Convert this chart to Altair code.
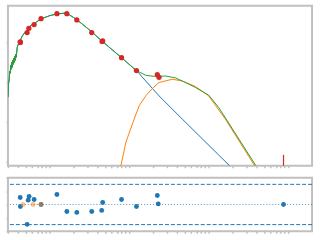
import altair as alt
import pandas as pd

# total model (green)
green_x = [0.2985, 0.3029, 0.3099, 0.3135, 0.319, 0.3227, 0.3283, 0.3321, 0.3379, 0.3418,
           0.3478, 0.3518, 0.358, 0.3621, 0.3684, 0.3727, 0.3792, 0.3836, 0.3903, 0.4016,
           0.4217, 0.4503, 0.4829, 0.5201, 0.5623, 0.6362, 0.7784, 1.0, 1.234,
           1.617, 1.778, 2.194, 3.381, 4.558, 8.013, 12.13, 16.17, 21.57, 28.75,
           38.35, 51.14, 68.2, 100.0, 133.4, 165.5, 390.2, 421.7]
green_y = [42.17, 89.1, 118.9, 188.4, 167.9, 266.1, 211.3, 316.2, 237.1, 354.8,
           281.8, 398.1, 316.2, 446.7, 354.8, 501.2, 421.7, 530.9, 749.9, 891.3,
           1078, 1437, 1748, 1995, 2556, 2985, 3913, 4732, 5219,
           5527, 4926, 3758, 1851, 1078, 414.5, 199.5, 149.6, 138.8, 143.7,
           128.1, 98.3, 73.7, 47.3, 23.3, 11.89, 0.808, 0.631]

# power-law component (blue)
blue_x = [0.2985, 0.3029, 0.3099, 0.3135, 0.319, 0.3227, 0.3283, 0.3321, 0.3379, 0.3418,
          0.3478, 0.3518, 0.358, 0.3621, 0.3684, 0.3727, 0.3792, 0.3836, 0.3903, 0.4016,
          0.4217, 0.4503, 0.4829, 0.5201, 0.5623, 0.6362, 0.7784, 1.0, 1.234,
          1.617, 1.778, 2.194, 3.381, 4.558, 8.013,
          12.34, 23.71, 46.4, 181.4, 199.5]
blue_y = [42.17, 89.1, 118.9, 188.4, 167.9, 266.1, 211.3, 316.2, 237.1, 354.8,
          281.8, 398.1, 316.2, 446.7, 354.8, 501.2, 421.7, 530.9, 749.9, 891.3,
          1078, 1437, 1748, 1995, 2556, 2985, 3913, 4732, 5219,
          5527, 4926, 3758, 1851, 1078, 414.5,
          196.1, 45.45, 11.89, 0.808, 0.65]

# dust bump component (orange)
orange_x = [7.606, 7.876, 9.095, 11.55, 13.34, 16.17, 19.56, 23.71, 34.77, 46.4,
            68.2, 100.0, 161.7, 375.8, 403.6]
orange_y = [0.631, 0.808, 3.108, 11.89, 25.56, 45.45, 69.6, 98.3, 118.9, 107.8,
            78.1, 45.45, 11.89, 0.808, 0.631]

# observed points (red)
obs_x = [0.4256, 0.428, 0.520, 0.5465, 0.637, 0.778, 1.233, 1.644, 2.194, 3.38,
         4.56, 4.64, 8.01, 12.34, 22.58, 23.71]
obs_y = [1041, 1000, 1778, 2278, 2818, 3981, 5309, 5309, 3694, 1778,
         1059, 1090, 414.5, 196.1, 155.8, 133.4]

# upper limit (red rule)
ul_x = [873]
ul_y = [1.496]

# residuals
res_x = [0.4256, 0.428, 0.520, 0.536, 0.551, 0.637, 0.778, 1.233, 1.644, 2.194,
         3.38, 4.51, 4.64, 8.01, 12.34, 22.58, 23.2, 873]
res_y = [0.52, -0.15, -1.48, 0.32, 0.59, 0.37, 0.0, 0.74, -0.52, -0.59,
         -0.52, -0.44, 0.15, 0.37, -0.15, 0.67, 0.04, 0.0]
excl_x = [0.464, 0.618, 0.778]
excl_y = [0.0, 0.0, 0.0]

xdom = [0.2985, 1995]
ydom = [0.794, 8414]
rdom = [-2, 2]

xticks = []
for e in [0.1, 1, 10, 100, 1000]:
    for k in range(1, 10):
        v = k * e
        if xdom[0] <= v <= xdom[1]:
            xticks.append(v)

BLUE, ORANGE, GREEN, RED = "#1f77b4", "#ff7f0e", "#2ca02c", "#d62728"

xs = alt.Scale(type="log", domain=xdom, nice=False)
ys = alt.Scale(type="log", domain=ydom, nice=False)
rs = alt.Scale(domain=rdom, nice=False)

xax = alt.Axis(values=xticks, labels=False, title=None, grid=False, domain=False)
yax = alt.Axis(values=[1, 10, 100, 1000], labels=False, title=None, grid=False, domain=False)
rax = alt.Axis(values=[-2, -1, 0, 1, 2], labels=False, title=None, grid=False, domain=False)

def line(x, y, color):
    df = pd.DataFrame({"x": x, "y": y, "i": range(len(x))})
    return alt.Chart(df).mark_line(color=color, strokeWidth=1, clip=True).encode(
        x=alt.X("x:Q", scale=xs, axis=xax),
        y=alt.Y("y:Q", scale=ys, axis=yax),
        order="i:Q",
    )

blue = line(blue_x, blue_y, BLUE)
orange = line(orange_x, orange_y, ORANGE)
green = line(green_x, green_y, GREEN)

obs = alt.Chart(pd.DataFrame({"x": obs_x, "y": obs_y})).mark_circle(
    color=RED, size=28, opacity=1).encode(
    x=alt.X("x:Q", scale=xs, axis=xax), y=alt.Y("y:Q", scale=ys, axis=yax))

ul = alt.Chart(pd.DataFrame({"x": ul_x, "y": ul_y, "y2": [ydom[0]]})).mark_rule(
    color=RED, strokeWidth=1.2).encode(
    x=alt.X("x:Q", scale=xs, axis=xax), y=alt.Y("y:Q", scale=ys, axis=yax), y2="y2:Q")

top = alt.layer(blue, orange, green, obs, ul).properties(width=306, height=161)

lines_df = pd.DataFrame({"r": [1.5, -1.5]})
dashed = alt.Chart(lines_df).mark_rule(color=BLUE, strokeWidth=1, strokeDash=[4, 2]).encode(
    y=alt.Y("r:Q", scale=rs, axis=rax))
zero = alt.Chart(pd.DataFrame({"r": [0.0]})).mark_rule(
    color=BLUE, strokeWidth=1, strokeDash=[1, 2], opacity=0.8).encode(
    y=alt.Y("r:Q", scale=rs, axis=rax))
resid = alt.Chart(pd.DataFrame({"x": res_x, "r": res_y})).mark_circle(
    color=BLUE, size=24, opacity=1).encode(
    x=alt.X("x:Q", scale=xs, axis=xax), y=alt.Y("r:Q", scale=rs, axis=rax))
excl = alt.Chart(pd.DataFrame({"x": excl_x, "r": excl_y})).mark_circle(
    color=ORANGE, size=24, opacity=0.5).encode(
    x=alt.X("x:Q", scale=xs, axis=xax), y=alt.Y("r:Q", scale=rs, axis=rax))

bottom = alt.layer(dashed, zero, resid, excl).properties(width=306, height=54)

chart = alt.vconcat(top, bottom, spacing=6).properties(
    padding={"left": 4, "top": 4, "right": 6, "bottom": 4}
).configure_view(
    stroke="#c0c0c0", strokeWidth=2
).configure_axis(
    tickColor="#c0c0c0", tickSize=2, tickWidth=1.5
)

chart.save("out.html", embed_options={"renderer": "svg", "actions": False})
